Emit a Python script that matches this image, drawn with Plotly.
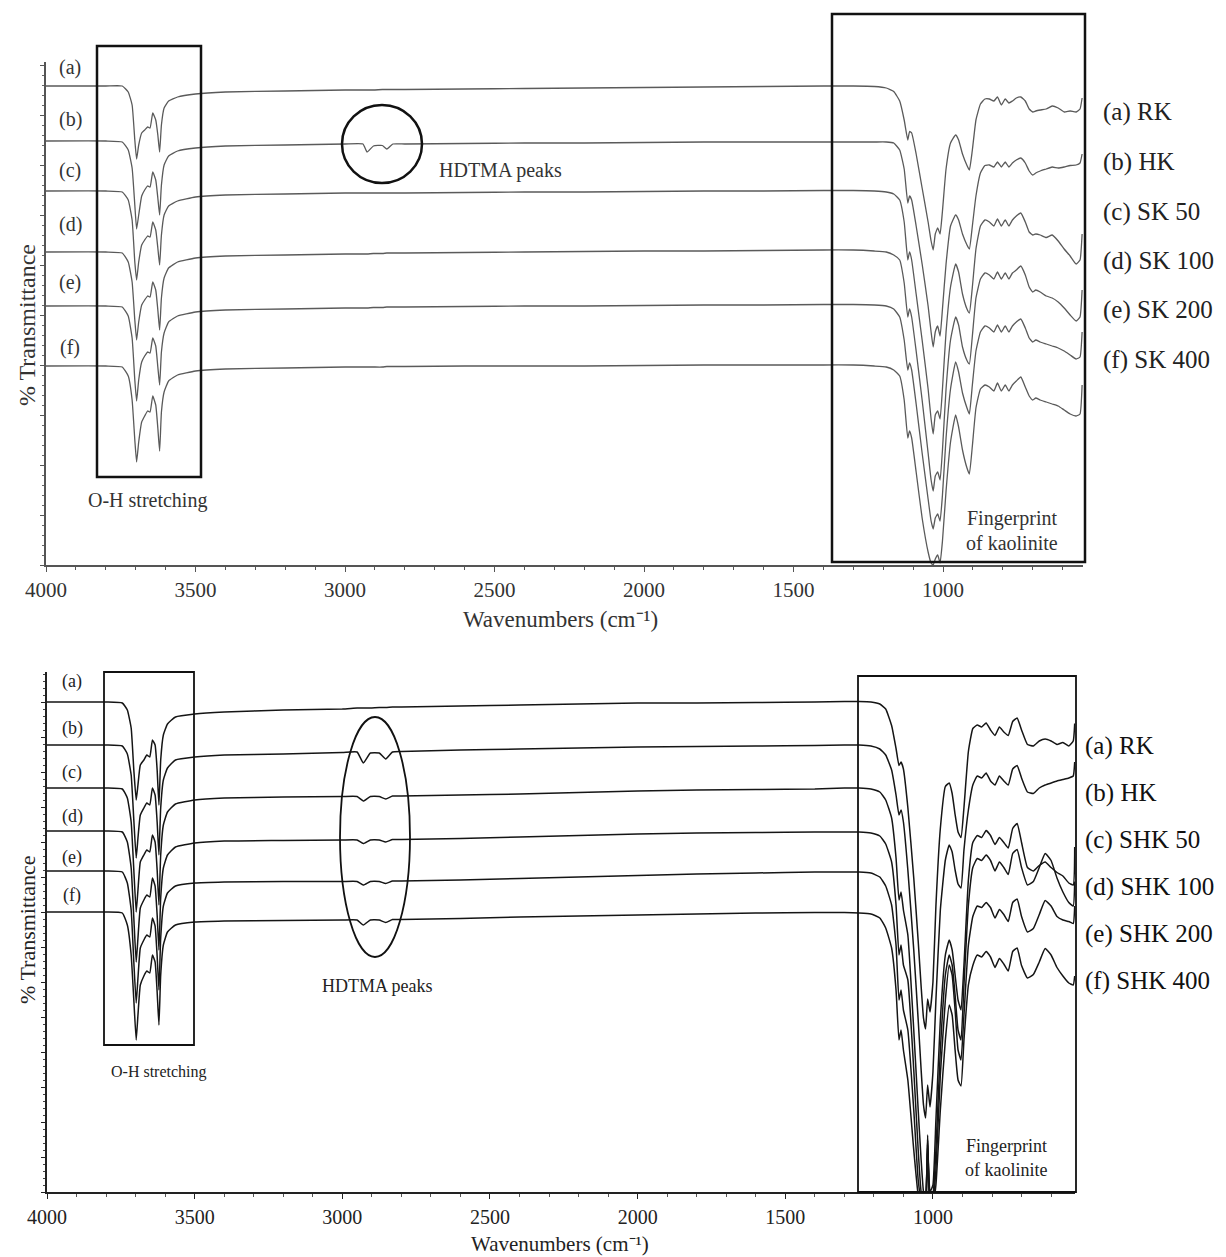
import plotly.graph_objects as go

# ---------------- data ----------------
wn_top = [4000, 3800, 3745, 3725, 3712, 3703, 3697, 3690, 3680, 3670, 3660, 3652, 3643, 3633, 3626, 3620, 3614, 3605, 3590, 3560,
          3500, 3400, 3200, 3000, 2940, 2926, 2905, 2875, 2860, 2840, 2800, 2600, 2400, 2200, 2000, 1800, 1600, 1400,
          1300, 1230, 1190, 1165, 1145, 1130, 1118, 1112, 1105, 1090, 1070, 1050, 1040, 1033, 1026, 1018, 1010, 1002, 990, 975,
          958, 948, 935, 920, 912, 902, 890, 875, 860, 845, 830, 818, 805, 792, 780, 768, 755, 740, 725, 712, 700, 690, 675,
          655, 635, 615, 595, 575, 555, 542, 535]

top_a = [95.8, 95.8, 95.8, 94.6, 92.0, 85.0, 81.2, 84.0, 86.4, 87.0, 87.6, 87.4, 90.4, 89.0, 86.0, 82.6, 88.0, 91.4, 92.8, 93.6,
         94.2, 94.6, 94.8, 95.0, 95.0, 95.0, 95.0, 95.1, 95.1, 95.1, 95.1, 95.2, 95.3, 95.4, 95.5, 95.6, 95.7, 95.8,
         95.8, 95.7, 95.4, 94.7, 92.8, 89.0, 85.0, 86.7, 86.4, 82.2, 75.4, 68.6, 64.8, 63.0, 66.2, 67.4, 66.2, 70.8, 79.2, 84.4,
         86.0, 85.0, 82.2, 79.9, 79.0, 83.0, 89.0, 92.2, 93.2, 93.2, 92.8, 93.6, 92.0, 93.2, 92.4, 92.8, 93.4, 93.6, 92.8, 91.2,
         90.6, 90.8, 91.0, 91.2, 91.8, 91.4, 90.6, 90.8, 90.6, 91.2, 93.4]
top_b = [84.8, 84.8, 84.6, 83.0, 79.4, 72.0, 67.2, 70.0, 73.8, 75.0, 75.8, 75.6, 78.6, 77.0, 73.4, 70.0, 76.0, 80.0, 81.8, 82.8,
         83.4, 83.8, 84.0, 84.2, 84.2, 82.6, 83.8, 83.9, 83.2, 84.2, 84.2, 84.3, 84.4, 84.4, 84.5, 84.6, 84.6, 84.6,
         84.6, 84.6, 84.6, 84.4, 83.0, 79.2, 72.4, 73.8, 73.0, 67.8, 60.2, 51.8, 46.6, 43.6, 46.6, 47.8, 45.8, 51.2, 60.2, 67.8,
         70.0, 69.0, 66.2, 64.0, 63.2, 67.8, 73.8, 78.4, 79.9, 80.0, 79.6, 80.6, 79.6, 80.6, 79.6, 80.4, 81.0, 81.4, 80.4, 78.8,
         78.0, 78.4, 78.8, 79.2, 79.6, 79.4, 79.6, 79.9, 80.0, 80.4, 82.2]
top_c = [74.8, 74.8, 74.6, 73.0, 69.0, 60.6, 57.0, 60.6, 64.0, 65.0, 65.8, 65.6, 68.6, 67.0, 63.4, 60.0, 66.0, 70.0, 71.8, 72.8,
         73.6, 74.0, 74.2, 74.4, 74.4, 74.4, 74.4, 74.4, 74.4, 74.4, 74.4, 74.5, 74.6, 74.6, 74.7, 74.8, 74.8, 74.9,
         74.9, 74.8, 74.6, 74.2, 73.0, 68.6, 61.0, 62.6, 61.0, 54.2, 45.0, 35.2, 29.2, 26.2, 30.0, 30.8, 29.2, 35.2, 46.6, 55.6,
         60.2, 58.6, 54.2, 51.2, 50.4, 55.6, 63.2, 67.8, 69.0, 68.6, 67.8, 69.2, 67.8, 69.0, 67.8, 69.0, 69.8, 70.4, 68.6, 66.6,
         66.0, 66.2, 66.0, 65.5, 66.0, 64.8, 63.2, 61.8, 60.2, 61.0, 66.2]
top_d = [62.6, 62.6, 62.4, 60.6, 56.6, 49.0, 45.0, 48.6, 52.0, 53.0, 53.8, 53.6, 56.6, 55.0, 51.0, 47.0, 53.4, 57.4, 59.4, 60.6,
         61.4, 61.8, 62.0, 62.2, 62.2, 62.2, 62.3, 62.3, 62.4, 62.4, 62.4, 62.5, 62.6, 62.7, 62.8, 62.8, 62.9, 63.0,
         63.0, 62.8, 62.6, 62.0, 61.0, 56.4, 49.6, 51.2, 49.6, 42.8, 33.0, 22.4, 17.0, 14.8, 17.8, 18.6, 17.0, 23.0, 35.2, 45.0,
         49.6, 48.0, 43.6, 40.9, 40.2, 45.8, 53.4, 57.2, 58.4, 58.0, 57.2, 58.6, 57.2, 58.4, 57.2, 58.4, 59.0, 59.8, 58.0, 55.6,
         54.6, 55.0, 54.6, 53.8, 53.4, 52.6, 51.4, 50.0, 48.8, 49.6, 55.0]
top_e = [51.8, 51.8, 51.6, 49.8, 45.4, 37.0, 32.8, 37.0, 40.6, 41.8, 42.6, 42.4, 45.4, 43.8, 39.6, 36.0, 42.6, 46.4, 48.6, 49.8,
         50.6, 51.0, 51.2, 51.4, 51.4, 51.4, 51.5, 51.5, 51.6, 51.6, 51.6, 51.7, 51.8, 51.8, 51.9, 52.0, 52.0, 52.1,
         52.1, 52.0, 51.8, 51.2, 49.6, 45.0, 39.0, 40.4, 39.0, 32.2, 22.4, 13.2, 8.8, 7.2, 9.4, 10.2, 8.8, 14.0, 25.4, 35.2,
         40.6, 38.6, 34.4, 31.4, 30.2, 36.0, 42.8, 46.6, 47.8, 47.4, 46.6, 48.0, 46.6, 47.8, 46.6, 47.8, 48.6, 49.2, 47.4, 45.4,
         44.6, 45.0, 44.6, 44.2, 43.8, 43.4, 42.8, 42.0, 41.2, 41.6, 46.6]
top_f = [39.8, 39.8, 39.6, 37.8, 33.0, 25.0, 20.6, 24.6, 28.6, 29.8, 30.8, 30.6, 33.8, 32.0, 27.4, 22.8, 30.6, 34.6, 36.8, 38.0,
         38.8, 39.2, 39.4, 39.6, 39.6, 39.6, 39.6, 39.6, 39.7, 39.7, 39.7, 39.8, 39.8, 39.8, 39.9, 40.0, 40.0, 40.0,
         40.0, 39.8, 39.6, 39.0, 37.8, 33.0, 25.4, 26.8, 25.4, 18.6, 9.4, 2.6, 0.4, 0.0, 1.2, 2.0, 0.4, 4.8, 14.8, 24.6,
         30.0, 27.6, 23.0, 19.4, 18.2, 23.8, 31.4, 35.2, 36.0, 35.6, 34.8, 36.4, 34.8, 36.0, 34.8, 36.0, 36.8, 37.6, 35.6, 33.8,
         33.0, 33.4, 33.0, 32.6, 32.2, 31.8, 31.0, 30.2, 29.8, 30.2, 36.0]

wn_bot = [4000, 3800, 3745, 3728, 3715, 3706, 3698, 3692, 3684, 3672, 3662, 3652, 3643, 3634, 3627, 3621, 3615, 3606, 3592, 3565,
          3500, 3400, 3200, 3000, 2950, 2929, 2905, 2875, 2853, 2830, 2800, 2600, 2400, 2200, 2000, 1800, 1600, 1400,
          1300, 1250, 1210, 1180, 1160, 1140, 1125, 1115, 1108, 1100, 1085, 1065, 1050, 1040, 1032, 1025, 1018, 1010, 1000, 990,
          975, 958, 945, 935, 925, 915, 905, 895, 880, 865, 850, 835, 820, 805, 790, 775, 760, 745, 730, 715,
          700, 680, 660, 640, 620, 600, 580, 560, 540, 525, 520]

bot_a = [98.0, 98.0, 97.8, 96.4, 92.8, 84.4, 78.4, 81.4, 85.4, 86.4, 87.4, 87.0, 90.4, 89.4, 84.4, 77.4, 86.4, 91.4, 93.6, 95.0,
         95.6, 96.0, 96.4, 96.6, 96.8, 96.8, 96.8, 96.9, 96.9, 97.0, 97.0, 97.2, 97.4, 97.6, 97.8, 97.8, 97.9, 98.0,
         98.1, 98.1, 98.0, 97.6, 96.6, 93.3, 88.7, 85.3, 86.0, 84.6, 76.9, 62.8, 50.2, 41.1, 34.8, 32.6, 38.6, 36.0, 42.0, 57.2,
         72.7, 81.1, 81.8, 79.7, 75.5, 72.0, 70.9, 76.9, 88.1, 92.7, 93.4, 93.0, 93.8, 92.4, 91.3, 93.0, 92.0, 91.3, 94.1, 94.8,
         92.4, 89.5, 89.2, 90.2, 90.6, 90.2, 89.5, 89.9, 89.2, 90.2, 93.7]
bot_b = [89.4, 89.4, 89.2, 87.6, 83.4, 74.4, 66.8, 70.8, 75.4, 76.8, 77.8, 77.4, 80.8, 79.4, 74.0, 67.4, 76.8, 82.4, 84.8, 86.4,
         87.0, 87.4, 87.6, 87.9, 88.0, 85.8, 87.8, 87.8, 86.6, 88.0, 88.1, 88.4, 88.6, 88.8, 89.0, 89.1, 89.2, 89.3,
         89.4, 89.4, 89.2, 88.6, 87.4, 84.4, 79.4, 75.4, 76.4, 74.0, 64.4, 48.4, 34.4, 24.4, 17.4, 14.8, 21.4, 17.0, 24.0, 38.4,
         56.4, 66.4, 69.4, 68.0, 64.4, 61.6, 60.8, 68.4, 76.4, 81.4, 83.2, 82.8, 83.8, 82.2, 81.4, 83.2, 82.2, 81.4, 84.6, 85.3,
         82.8, 80.0, 79.7, 80.8, 81.4, 81.8, 82.2, 82.5, 82.8, 83.2, 86.0]
bot_c = [80.8, 80.8, 80.6, 78.8, 74.0, 64.4, 56.0, 60.4, 66.0, 67.4, 68.4, 68.0, 71.4, 70.0, 64.4, 57.4, 67.4, 73.4, 76.0, 77.6,
         78.4, 78.8, 79.0, 79.1, 79.1, 78.2, 79.1, 79.1, 78.6, 79.2, 79.2, 79.4, 79.6, 79.9, 80.2, 80.4, 80.5, 80.6,
         80.8, 80.8, 80.6, 80.0, 78.4, 74.8, 66.8, 58.4, 60.0, 56.4, 51.4, 32.4, 16.4, 6.4, 0.0, -1.6, 8.4, 0.0, 1.4, 14.4,
         34.4, 47.4, 50.4, 48.4, 43.4, 38.4, 36.4, 45.4, 62.4, 69.9, 71.3, 70.9, 72.3, 71.3, 69.5, 70.9, 69.9, 68.8, 72.7, 73.7,
         69.9, 64.9, 64.2, 65.3, 66.0, 64.9, 63.9, 63.2, 61.8, 61.4, 69.0]
bot_d = [72.2, 72.2, 72.0, 70.0, 64.8, 54.8, 46.0, 50.8, 56.8, 58.4, 59.4, 59.0, 62.8, 61.2, 55.4, 48.4, 58.8, 64.8, 67.4, 69.0,
         69.8, 70.2, 70.3, 70.4, 70.4, 69.7, 70.4, 70.4, 70.0, 70.5, 70.5, 70.7, 71.0, 71.3, 71.6, 71.8, 71.9, 72.0,
         72.0, 72.0, 71.8, 71.2, 69.6, 66.0, 57.4, 47.4, 49.4, 45.4, 42.4, 24.4, 8.4, 0.0, -1.6, -2.6, 10.4, -1.6, -0.6, 8.4,
         28.4, 43.4, 47.4, 45.4, 39.4, 32.4, 30.4, 41.4, 57.4, 64.9, 66.7, 66.3, 67.4, 66.3, 64.2, 66.0, 64.9, 63.5, 67.7, 68.5,
         64.9, 61.4, 62.1, 64.9, 67.7, 66.3, 62.8, 60.0, 57.9, 57.2, 62.1]
bot_e = [64.2, 64.2, 64.0, 61.8, 56.4, 46.0, 37.8, 42.8, 48.8, 50.4, 51.4, 51.0, 54.8, 53.2, 47.2, 40.4, 50.8, 57.2, 59.8, 61.2,
         61.8, 62.0, 62.1, 62.1, 62.1, 61.4, 62.1, 62.1, 61.7, 62.2, 62.2, 62.4, 62.7, 63.0, 63.3, 63.6, 63.8, 64.0,
         64.0, 64.0, 63.8, 63.0, 61.2, 57.4, 49.4, 38.4, 40.4, 36.4, 32.4, 16.4, 2.4, -1.6, -2.6, -3.6, 11.4, -2.6, -1.6, 4.4,
         23.4, 38.4, 45.4, 43.4, 36.4, 28.4, 26.4, 35.4, 49.4, 55.1, 57.2, 56.9, 57.9, 56.9, 54.8, 56.5, 55.5, 54.1, 57.9, 58.6,
         55.1, 52.0, 52.7, 55.5, 58.3, 57.2, 55.1, 54.4, 54.1, 53.7, 57.2]
bot_f = [56.0, 56.0, 55.8, 53.4, 47.4, 38.4, 30.4, 35.4, 41.4, 43.2, 44.2, 43.8, 47.4, 46.0, 40.0, 33.4, 43.4, 49.4, 52.0, 53.4,
         54.0, 54.2, 54.3, 54.4, 54.4, 53.4, 54.4, 54.4, 53.9, 54.5, 54.5, 54.7, 55.0, 55.2, 55.4, 55.6, 55.8, 55.9,
         55.9, 55.8, 55.6, 54.8, 52.8, 48.8, 40.4, 30.4, 32.4, 28.4, 22.4, 8.4, -0.6, -2.6, -3.6, -3.6, 9.4, -3.6, -2.6, 1.4,
         16.4, 30.4, 37.4, 35.4, 28.4, 22.4, 21.2, 30.4, 41.4, 45.3, 47.4, 47.0, 48.1, 47.0, 44.9, 46.7, 45.6, 44.2, 48.1, 48.8,
         45.3, 42.8, 43.5, 46.0, 48.7, 47.4, 44.9, 43.2, 41.8, 41.4, 43.2]

letters = ["(a)", "(b)", "(c)", "(d)", "(e)", "(f)"]
names_top = ["(a) RK", "(b) HK", "(c) SK 50", "(d) SK 100", "(e) SK 200", "(f) SK 400"]
names_bot = ["(a) RK", "(b) HK", "(c) SHK 50", "(d) SHK 100", "(e) SHK 200", "(f) SHK 400"]
tick_vals = [4000, 3500, 3000, 2500, 2000, 1500, 1000]

series_top = [top_a, top_b, top_c, top_d, top_e, top_f]
series_bot = [bot_a, bot_b, bot_c, bot_d, bot_e, bot_f]
for s in series_top:
    assert len(s) == len(wn_top)
for s in series_bot:
    assert len(s) == len(wn_bot)

# ---------------- figure ----------------
W, H = 1226, 1257
FONT = "Liberation Serif"


def px(x):
    return x / W


def py(y):
    return 1 - y / H


fig = go.Figure()
for name, s in zip(names_top, series_top):
    fig.add_trace(go.Scatter(x=wn_top, y=s, mode="lines", name=name, xaxis="x", yaxis="y",
                             line=dict(color="#5a5a5a", width=1.3, shape="spline", smoothing=0.4),
                             showlegend=False, hoverinfo="skip"))
for name, s in zip(names_bot, series_bot):
    fig.add_trace(go.Scatter(x=wn_bot, y=s, mode="lines", name=name, xaxis="x2", yaxis="y2",
                             line=dict(color="#151515", width=1.5, shape="spline", smoothing=0.4),
                             showlegend=False, hoverinfo="skip"))

xcommon = dict(showgrid=False, zeroline=False, showline=True, linewidth=1.5, ticks="outside", automargin=False,
               tickvals=tick_vals, ticktext=[str(v) for v in tick_vals], ticklen=5,
               minor=dict(dtick=100, tick0=0, ticks="outside", ticklen=3, tickcolor="#555"))
ycommon = dict(showgrid=False, zeroline=False, showline=True, linewidth=1.5, ticks="outside", automargin=False,
               showticklabels=False, ticklen=4)

fig.update_layout(
    width=W, height=H, margin=dict(l=0, r=0, t=0, b=0, autoexpand=False),
    paper_bgcolor="white", plot_bgcolor="white",
    font=dict(family=FONT, color="#333"),
    xaxis=dict(domain=[px(46), px(1083)], range=[4000, 532], anchor="y", linecolor="#555", tickcolor="#555",
               ticklabelstandoff=0, tickfont=dict(size=21, color="#333", family=FONT), **xcommon),
    yaxis=dict(domain=[py(565), py(62)], range=[0, 100.6], anchor="x", linecolor="#555", tickcolor="#555",
               dtick=10, tick0=0, minor=dict(dtick=2, ticks="outside", ticklen=2, tickcolor="#666"), **ycommon),
    xaxis2=dict(domain=[px(47), px(1075)], range=[4000, 519], anchor="y2", linecolor="#222", tickcolor="#222",
                ticklabelstandoff=1, tickfont=dict(size=20, color="#222", family=FONT), **xcommon),
    yaxis2=dict(domain=[py(1192), py(672)], range=[0, 104], anchor="x2", linecolor="#222", tickcolor="#222",
                dtick=7, tick0=0, minor=dict(dtick=1.4, ticks="outside", ticklen=2, tickcolor="#444"), **ycommon),
)

shapes = []


def rect(x0, y0, x1, y1, w, color):
    shapes.append(dict(type="rect", xref="paper", yref="paper", x0=px(x0), x1=px(x1), y0=py(y1), y1=py(y0),
                       line=dict(color=color, width=w)))


def oval(x0, y0, x1, y1, w, color):
    shapes.append(dict(type="circle", xref="paper", yref="paper", x0=px(x0), x1=px(x1), y0=py(y1), y1=py(y0),
                       line=dict(color=color, width=w)))


rect(97, 46, 201, 477, 2.5, "#111")
rect(832, 14, 1085, 562, 2.5, "#111")
oval(342, 105, 422, 183, 2.5, "#111")
rect(104, 672, 194, 1045, 1.8, "#111")
rect(858, 676, 1076, 1192, 1.8, "#111")
oval(340, 717, 410, 957, 1.8, "#111")
fig.update_layout(shapes=shapes)

ann = []


def text(x, y, s, size, color="#333", xanchor="center", angle=0):
    ann.append(dict(x=px(x), y=py(y), xref="paper", yref="paper", text=s, showarrow=False,
                    xanchor=xanchor, yanchor="middle", textangle=angle,
                    font=dict(family=FONT, size=size, color=color)))


# top panel
text(147, 501, "O-H stretching", 20, "#333")
text(500, 170, "HDTMA peaks", 20, "#333")
text(1012, 518, "Fingerprint", 20, "#333")
text(1012, 543, "of kaolinite", 20, "#333")
for lab, y in zip(letters, [67, 120, 170, 224, 282, 348]):
    text(70, y, lab, 20, "#333")
for lab, y in zip(names_top, [112, 162, 212, 261, 310, 360]):
    text(1101, y, lab, 25, "#222", xanchor="left")
text(560, 619, "Wavenumbers (cm⁻¹)", 23, "#333")
text(27, 325, "% Transmittance", 24, "#333", angle=-90)

# bottom panel
text(159, 1072, "O-H stretching", 16, "#222")
text(378, 986, "HDTMA peaks", 18, "#222")
text(1006, 1146, "Fingerprint", 18, "#222")
text(1006, 1170, "of kaolinite", 18, "#222")
for lab, y in zip(letters, [681, 728, 772, 816, 857, 895]):
    text(72, y, lab, 18, "#222")
for lab, y in zip(names_bot, [746, 793, 840, 887, 934, 981]):
    text(1083, y, lab, 25, "#111", xanchor="left")
text(560, 1244, "Wavenumbers (cm⁻¹)", 21, "#222")
text(27, 930, "% Transmittance", 22, "#222", angle=-90)

fig.update_layout(annotations=ann)

fig.write_html("out.html", config={"displayModeBar": False},
               post_script="document.body.style.margin='0';document.body.style.overflow='hidden';")
